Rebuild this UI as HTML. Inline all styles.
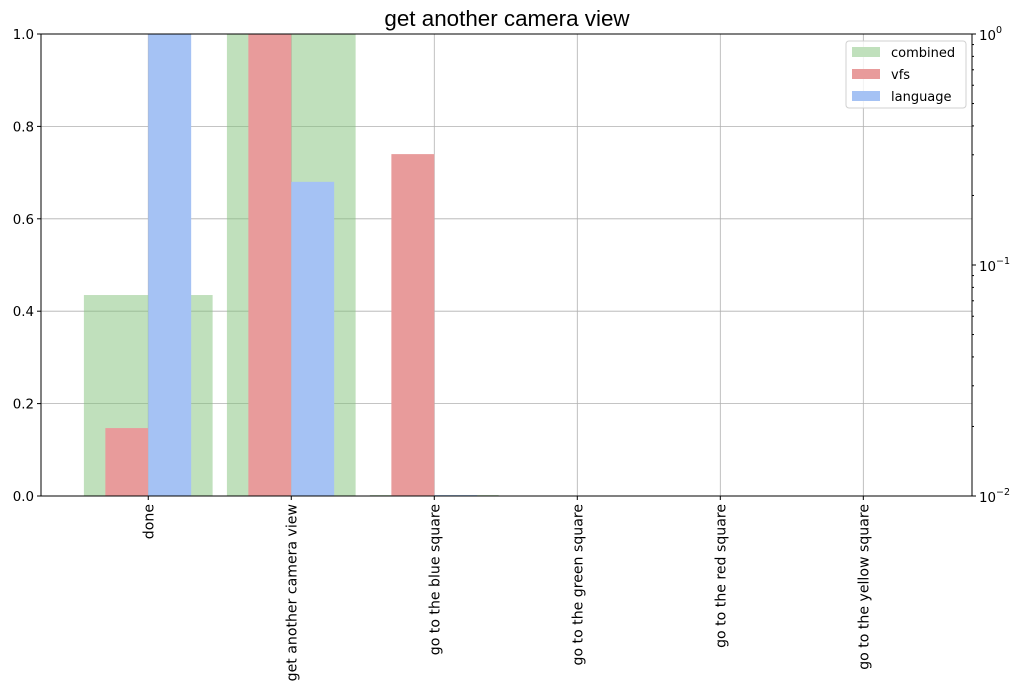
<!DOCTYPE html>
<html><head><meta charset="utf-8"><style>
body{margin:0;background:#fff;width:1024px;height:691px;overflow:hidden}
svg{font-family:"DejaVu Sans","Liberation Sans",sans-serif}
</style></head><body>
<svg id="chart" width="1024" height="691" xmlns="http://www.w3.org/2000/svg"></svg>
<script>
const categories=["done","get another camera view","go to the blue square","go to the green square","go to the red square","go to the yellow square"];
const combinedValues=[0.435,1.0,0.002,0,0,0];
const vfsValues=[0.147,1.0,0.74,0,0,0];
const languageValues=[1.0,0.68,0.002,0,0,0];
const yTicks=[0,0.2,0.4,0.6,0.8,1.0];
const yTickLabels=["0.0","0.2","0.4","0.6","0.8","1.0"];
const logTicks=[-2,-1,0];

const L=41,R=972,T=34,B=496;
const xmin=-0.75,xmax=5.76;
const xs=v=>L+(v-xmin)/(xmax-xmin)*(R-L);
const ys=v=>B-v*(B-T);
const ylog=e=>B-(e+2)/2*(B-T);
const svg=document.getElementById('chart');
const NS="http://www.w3.org/2000/svg";
function mk(tag,attrs,parent){const e=document.createElementNS(NS,tag);for(const k in attrs)e.setAttribute(k,attrs[k]);(parent||svg).appendChild(e);return e;}

const title=mk('text',{x:507,y:26,'text-anchor':'middle','font-size':22.4,fill:'#000','font-family':'Liberation Sans, sans-serif'});
title.textContent="get another camera view";



yTicks.forEach((t,i)=>{
  const g=mk('line',{x1:L,x2:R,y1:ys(t),y2:ys(t),stroke:'#b0b0b0','stroke-width':0.8});
  
  
});
categories.forEach((c,i)=>{
  const x=xs(i);
  const g=mk('line',{x1:x,x2:x,y1:T,y2:B,stroke:'#b0b0b0','stroke-width':0.8});
  
  
});

function bars(vals,off,w,color,op,name){
  vals.forEach((v,i)=>{
    const x0=xs(i+off),x1=xs(i+off+w);
    const r=mk('rect',{x:x0,y:ys(v),width:x1-x0,height:ys(0)-ys(v),fill:color,'fill-opacity':op});
    
    
  });
}
bars(combinedValues,-0.45,0.9,'#82c17a',0.5,'combined');
bars(vfsValues,-0.3,0.3,'#e89b9b',1,'vfs');
bars(languageValues,0,0.3,'#a5c2f4',1,'language');

yTicks.forEach((t,i)=>{
  mk('line',{x1:L-4,x2:L,y1:ys(t),y2:ys(t),stroke:'#000'});
  const tx=mk('text',{x:L-7,y:ys(t)+5,'text-anchor':'end','font-size':13.4});
  tx.textContent=yTickLabels[i];
  
  
});
categories.forEach((c,i)=>{
  const x=xs(i);
  mk('line',{x1:x,x2:x,y1:B,y2:B+4,stroke:'#000'});
  const tx=mk('text',{x:0,y:0,'text-anchor':'end','font-size':14.1,transform:`translate(${x+5},${B+8}) rotate(-90)`});
  tx.textContent=c;
  
  
});
logTicks.forEach(e=>{
  const y=ylog(e);
  mk('line',{x1:R,x2:R+4,y1:y,y2:y,stroke:'#000'});
  const tx=mk('text',{x:R+7,y:y+6,'font-size':13.4});
  tx.innerHTML=`10<tspan dy="-7" font-size="9.5">${e===0?'0':'−'+(-e)}</tspan>`;
  
  
  if(e<0)for(let m=2;m<10;m++){const yy=ylog(e+Math.log10(m));mk('line',{x1:R,x2:R+2,y1:yy,y2:yy,stroke:'#000'});}
});
const frame=mk('rect',{x:L,y:T,width:R-L,height:B-T,fill:'none',stroke:'#000','stroke-width':1});



const lg=mk('g',{});


mk('rect',{x:846,y:41,width:120,height:67,rx:3,fill:'#fff','fill-opacity':0.8,stroke:'#d0d0d0'},lg);
[['combined','#c0e0bc'],['vfs','#e89b9b'],['language','#a5c2f4']].forEach((d,i)=>{
  const y=47+i*22;
  const r=mk('rect',{x:852,y:y,width:28,height:10,fill:d[1]},lg);
  
  
  const t=mk('text',{x:891,y:y+10,'font-size':13},lg);
  t.textContent=d[0];
  
  
});
</script>
</body></html>
